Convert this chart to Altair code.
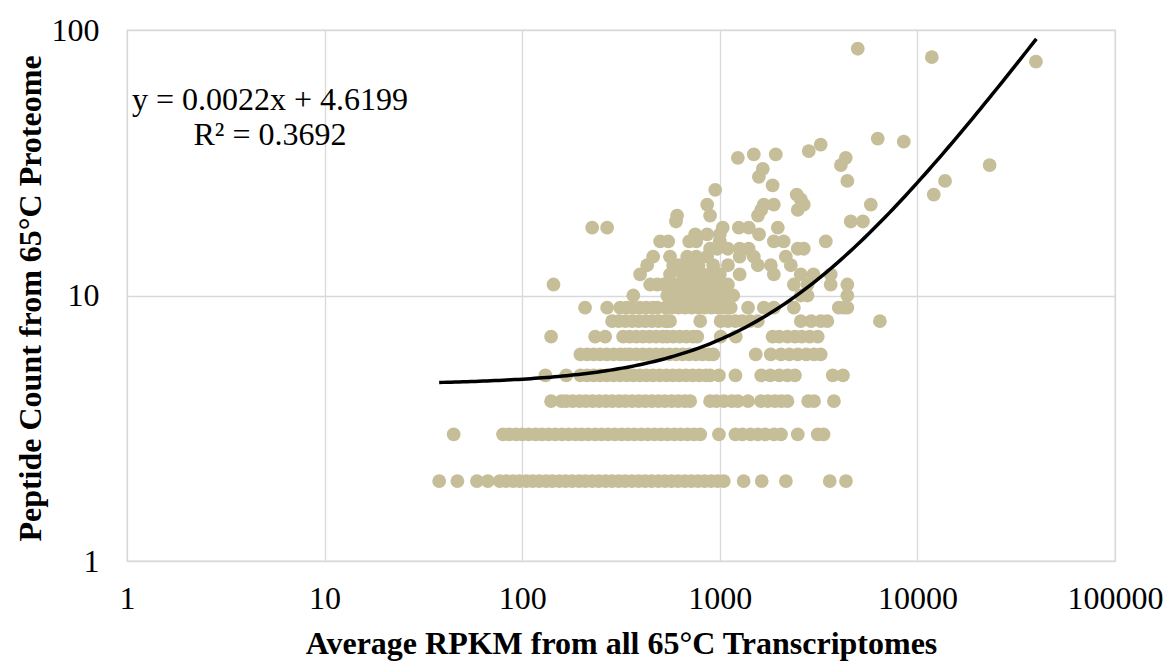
import altair as alt
import pandas as pd

# ---- data (RPKM, peptide count) ----
rpkm_2 = [38, 47, 59, 67, 77, 83, 90, 97, 105, 113, 122, 132, 142, 154, 166, 179, 194, 209,
          226, 244, 264, 285, 308, 332, 359, 388, 419, 452, 489, 528, 570, 615, 665, 718,
          775, 837, 904, 976, 1048, 1320, 1630, 2160, 3600, 4350]
rpkm_3 = [45, 80, 86, 93, 100, 108, 117, 126, 136, 147, 159, 172, 186, 200, 216, 234, 252,
          272, 294, 318, 343, 370, 400, 432, 467, 504, 544, 588, 635, 686, 740, 796, 990,
          1200, 1300, 1430, 1560, 1700, 1880, 2040, 2480, 3130, 3350]
rpkm_4 = [140, 158, 167, 180, 195, 210, 227, 245, 265, 286, 309, 333, 360, 389, 420, 453,
          490, 528, 571, 616, 665, 708, 893, 960, 1050, 1150, 1234, 1390, 1615, 1750, 1900,
          2050, 2200, 2800, 3000, 3780]
rpkm_5 = [131, 167, 197, 213, 230, 248, 268, 290, 313, 338, 365, 394, 425, 459, 496, 536,
          579, 625, 675, 729, 787, 850, 893, 990, 1200, 1620, 1800, 2000, 2200, 2400, 3730, 4200]
rpkm_6 = [197, 213, 230, 248, 268, 290, 313, 332, 350, 378, 408, 441, 476, 514, 555, 600,
          648, 700, 756, 816, 880, 927, 1520, 1810, 2040, 2250, 2480, 2740, 3000, 3240]
rpkm_7 = [140, 234, 263, 324, 350, 378, 408, 441, 476, 514, 542, 581, 627, 677, 731, 769,
          1010, 1205, 1850, 2000, 2200, 2400, 2600, 2850, 3130]
rpkm_8 = [285, 308, 333, 360, 389, 420, 453, 490, 529, 542, 560, 796, 1010, 1100, 1200,
          1300, 1420, 1557, 2570, 2900, 3240, 3500, 6460]
rpkm_9 = [208, 269, 313, 338, 365, 394, 425, 459, 482, 530, 572, 618, 667, 720, 778, 840,
          907, 980, 1060, 1136, 1390, 1670, 1880, 2370, 4000, 4240, 4420]
rpkm_10 = [365, 542, 585, 630, 680, 735, 795, 860, 930, 1000, 1080, 1170, 2570, 2780, 4420]
rpkm_11 = [144, 444, 482, 520, 570, 620, 680, 740, 800, 824, 880, 950, 1030, 1100, 2370,
           2780, 3640, 4420]
rpkm_12 = [395, 560, 650, 740, 824, 900, 1000, 1260, 1877, 2570, 2980, 3640]
rpkm_13 = [429, 581, 620, 700, 780, 926, 1100, 1557, 1812, 2287]
rpkm_14 = [460, 560, 684, 760, 863, 1260, 1486, 2158]
rpkm_15 = [893, 970, 1098, 1260, 1400, 2480, 2661]
rpkm_16 = [499, 548, 700, 760, 1000, 1877, 2105, 3439]
rpkm_17 = [751, 863, 1000, 1580]
rpkm_18 = [226, 269, 1035, 1248, 1402, 1966]
rpkm_19 = [600, 4600, 5300]
rpkm_20 = [608, 893, 1560]
rpkm_21 = [1620, 2480]
rpkm_22 = [863, 1670, 1877, 2660, 5810]
rpkm_high = [2570, 2450, 12100, 948, 1850, 4420, 13800, 1576, 1650, 4100, 23200, 1234,
             4340, 1486, 1920, 2820, 3240, 8530, 6300, 39800, 11830, 4990]
count_high = [23, 24, 24, 25, 26, 27, 27, 28, 30, 31, 31, 33,
              33, 34, 34, 35, 37, 38, 39, 76, 79, 85]

rows = {2: rpkm_2, 3: rpkm_3, 4: rpkm_4, 5: rpkm_5, 6: rpkm_6, 7: rpkm_7, 8: rpkm_8,
        9: rpkm_9, 10: rpkm_10, 11: rpkm_11, 12: rpkm_12, 13: rpkm_13, 14: rpkm_14,
        15: rpkm_15, 16: rpkm_16, 17: rpkm_17, 18: rpkm_18, 19: rpkm_19, 20: rpkm_20,
        21: rpkm_21, 22: rpkm_22}

recs = []
for c, xs in rows.items():
    for v in xs:
        recs.append({"rpkm": v, "count": c})
for v, c in zip(rpkm_high, count_high):
    recs.append({"rpkm": v, "count": c})
df = pd.DataFrame(recs)

# trendline as shown on the chart
slope = 0.0022
intercept = 4.6199
line_start, line_end = 38, 40000

FONT = "Liberation Serif"
GRID = "#D9D9D9"
DOT = "#C6BE99"
FS = 32

xscale = alt.Scale(type="log", domain=[1, 100000], nice=False)
yscale = alt.Scale(type="log", domain=[1, 100], nice=False)

xaxis = alt.Axis(values=[1, 10, 100, 1000, 10000, 100000], format="d",
                 title="Average RPKM from all 65°C Transcriptomes",
                 grid=True, gridColor=GRID, gridWidth=1.3, domain=False, ticks=False,
                 labelFont=FONT, labelFontSize=FS, labelColor="black", labelPadding=22,
                 labelFlush=False,
                 titleFont=FONT, titleFontSize=FS, titleFontWeight="bold", titleColor="black",
                 titleX=494, titleY=82, titleBaseline="middle", titleAlign="center")
yaxis = alt.Axis(values=[1, 10, 100], format="d",
                 title="Peptide Count from 65°C Proteome",
                 grid=True, gridColor=GRID, gridWidth=1.3, domain=False, ticks=False,
                 labelFont=FONT, labelFontSize=FS, labelColor="black", labelPadding=28,
                 labelFlush=False,
                 titleFont=FONT, titleFontSize=FS, titleFontWeight="bold", titleColor="black",
                 titleX=-97, titleY=268, titleBaseline="middle", titleAlign="center",
                 titleAngle=270)

points = alt.Chart(df).mark_circle(size=190, opacity=1, color=DOT).encode(
    x=alt.X("rpkm:Q", scale=xscale, axis=xaxis),
    y=alt.Y("count:Q", scale=yscale, axis=yaxis),
)

trend = (
    alt.Chart(alt.sequence(0, 151, 1, as_="i"))
    .transform_calculate(
        rpkm=f"pow(10, log({line_start})/LN10 + datum.i/150*(log({line_end})/LN10 - log({line_start})/LN10))"
    )
    .transform_calculate(count=f"{slope}*datum.rpkm + {intercept}")
    .mark_line(color="black", strokeWidth=3.5)
    .encode(x=alt.X("rpkm:Q", scale=xscale), y=alt.Y("count:Q", scale=yscale))
)

eq1 = alt.Chart(pd.DataFrame({"t": ["y = 0.0022x + 4.6199"]})).mark_text(
    font=FONT, fontSize=FS, color="black", align="center", baseline="middle"
).encode(text="t:N", x=alt.value(143), y=alt.value(70))
eq2 = alt.Chart(pd.DataFrame({"t": ["R² = 0.3692"]})).mark_text(
    font=FONT, fontSize=FS, color="black", align="center", baseline="middle"
).encode(text="t:N", x=alt.value(143), y=alt.value(105))

chart = (
    alt.layer(points, trend, eq1, eq2)
    .properties(width=988, height=531, autosize=alt.AutoSizeParams(type="none"),
                padding={"left": 127, "top": 30, "right": 54, "bottom": 101},
                background="white")
    .configure_view(stroke=GRID, strokeWidth=1.3)
)

chart.save("out.html", embed_options={"renderer": "svg", "actions": False})
